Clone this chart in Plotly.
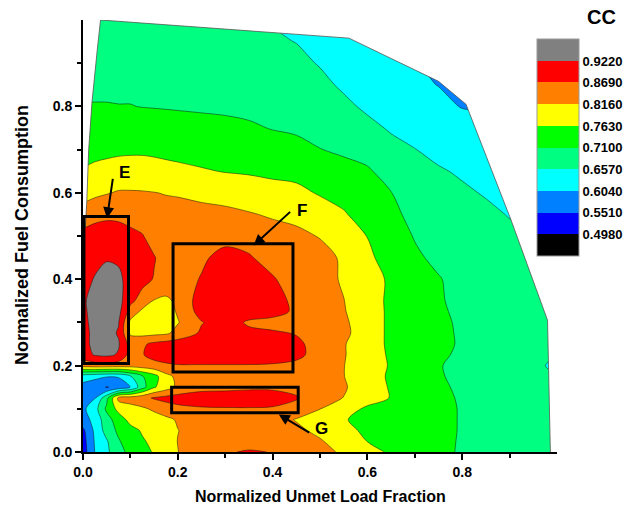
import plotly.graph_objects as go

# ---------------- data ----------------
x_vals = [0, 0.025, 0.05, 0.075, 0.1, 0.125, 0.15, 0.175, 0.2, 0.25, 0.3, 0.35, 0.4,
          0.45, 0.5, 0.55, 0.6, 0.65, 0.7, 0.75, 0.8, 0.85, 0.9, 0.95, 1.0]
y_vals = [0, 0.025, 0.05, 0.075, 0.1, 0.125, 0.15, 0.175, 0.2, 0.225, 0.25, 0.275, 0.3,
          0.325, 0.35, 0.4, 0.45, 0.5, 0.55, 0.6, 0.65, 0.7, 0.75, 0.8, 0.85, 0.9, 0.95, 1.0]

cc_y000 = [0.525, 0.605, 0.646, 0.694, 0.723, 0.744, 0.768, 0.792, 0.815, 0.848, 0.866, 0.872, 0.868, 0.848, 0.832, 0.808, 0.784, 0.755, 0.737, 0.721, 0.705, 0.697, 0.690, 0.685, 0.678]
cc_y025 = [0.530, 0.609, 0.652, 0.705, 0.737, 0.758, 0.774, 0.795, 0.817, 0.843, 0.853, 0.856, 0.853, 0.837, 0.821, 0.790, 0.762, 0.744, 0.734, 0.721, 0.706, 0.697, 0.690, 0.685, 0.678]
cc_y050 = [0.540, 0.615, 0.678, 0.721, 0.747, 0.768, 0.784, 0.800, 0.815, 0.837, 0.848, 0.848, 0.843, 0.827, 0.803, 0.779, 0.752, 0.739, 0.731, 0.721, 0.707, 0.697, 0.690, 0.685, 0.678]
cc_y075 = [0.583, 0.620, 0.689, 0.737, 0.779, 0.790, 0.795, 0.805, 0.821, 0.843, 0.848, 0.848, 0.837, 0.813, 0.790, 0.768, 0.742, 0.737, 0.731, 0.721, 0.707, 0.697, 0.690, 0.685, 0.678]
cc_y100 = [0.593, 0.636, 0.721, 0.779, 0.795, 0.808, 0.824, 0.843, 0.856, 0.864, 0.866, 0.866, 0.864, 0.848, 0.817, 0.792, 0.752, 0.742, 0.731, 0.721, 0.707, 0.697, 0.690, 0.685, 0.678]
cc_y125 = [0.593, 0.601, 0.694, 0.832, 0.843, 0.853, 0.874, 0.885, 0.890, 0.893, 0.890, 0.893, 0.890, 0.874, 0.832, 0.815, 0.790, 0.760, 0.737, 0.721, 0.705, 0.695, 0.690, 0.685, 0.676]
cc_y150 = [0.588, 0.578, 0.548, 0.567, 0.605, 0.689, 0.758, 0.792, 0.827, 0.853, 0.858, 0.861, 0.861, 0.853, 0.835, 0.821, 0.790, 0.758, 0.737, 0.718, 0.702, 0.694, 0.689, 0.684, 0.673]
cc_y175 = [0.625, 0.615, 0.607, 0.609, 0.652, 0.705, 0.742, 0.800, 0.829, 0.843, 0.845, 0.845, 0.843, 0.837, 0.829, 0.817, 0.787, 0.755, 0.737, 0.715, 0.697, 0.694, 0.689, 0.684, 0.662]
cc_y200 = [0.837, 0.843, 0.843, 0.840, 0.837, 0.843, 0.853, 0.861, 0.866, 0.866, 0.866, 0.866, 0.864, 0.856, 0.837, 0.817, 0.790, 0.758, 0.739, 0.713, 0.697, 0.694, 0.689, 0.684, 0.631]
cc_y225 = [0.896, 0.927, 0.933, 0.917, 0.848, 0.866, 0.885, 0.893, 0.896, 0.898, 0.898, 0.896, 0.893, 0.882, 0.848, 0.819, 0.790, 0.755, 0.737, 0.718, 0.702, 0.694, 0.689, 0.684, 0.662]
cc_y250 = [0.906, 0.935, 0.943, 0.927, 0.848, 0.861, 0.880, 0.890, 0.896, 0.898, 0.896, 0.896, 0.893, 0.880, 0.848, 0.819, 0.790, 0.752, 0.737, 0.721, 0.705, 0.695, 0.690, 0.684, 0.673]
cc_y275 = [0.906, 0.935, 0.943, 0.917, 0.808, 0.800, 0.803, 0.808, 0.832, 0.877, 0.885, 0.882, 0.877, 0.866, 0.848, 0.827, 0.790, 0.752, 0.737, 0.721, 0.704, 0.694, 0.689, 0.684, 0.676]
cc_y300 = [0.909, 0.938, 0.946, 0.925, 0.805, 0.790, 0.784, 0.792, 0.813, 0.866, 0.896, 0.861, 0.848, 0.848, 0.837, 0.824, 0.790, 0.752, 0.737, 0.721, 0.702, 0.694, 0.689, 0.684, 0.676]
cc_y325 = [0.911, 0.943, 0.954, 0.938, 0.848, 0.805, 0.795, 0.795, 0.821, 0.890, 0.901, 0.898, 0.893, 0.858, 0.837, 0.819, 0.790, 0.752, 0.734, 0.718, 0.699, 0.691, 0.689, 0.684, 0.676]
cc_y350 = [0.914, 0.943, 0.954, 0.941, 0.882, 0.848, 0.813, 0.808, 0.824, 0.896, 0.901, 0.898, 0.890, 0.856, 0.837, 0.817, 0.787, 0.752, 0.734, 0.715, 0.697, 0.691, 0.689, 0.684, 0.676]
cc_y400 = [0.906, 0.925, 0.943, 0.933, 0.901, 0.885, 0.866, 0.845, 0.848, 0.872, 0.890, 0.888, 0.874, 0.843, 0.832, 0.811, 0.784, 0.755, 0.731, 0.713, 0.694, 0.689, 0.686, 0.681, 0.673]
cc_y450 = [0.896, 0.909, 0.917, 0.914, 0.901, 0.885, 0.872, 0.848, 0.848, 0.861, 0.885, 0.874, 0.848, 0.837, 0.835, 0.808, 0.774, 0.739, 0.718, 0.699, 0.689, 0.684, 0.673, 0.668, 0.662]
cc_y500 = [0.885, 0.896, 0.901, 0.896, 0.882, 0.872, 0.848, 0.843, 0.845, 0.850, 0.853, 0.848, 0.837, 0.829, 0.813, 0.787, 0.762, 0.735, 0.707, 0.691, 0.684, 0.676, 0.665, 0.658, 0.652]
cc_y550 = [0.837, 0.850, 0.856, 0.855, 0.850, 0.844, 0.837, 0.832, 0.832, 0.832, 0.829, 0.820, 0.810, 0.801, 0.785, 0.767, 0.744, 0.721, 0.697, 0.681, 0.673, 0.665, 0.655, 0.646, 0.641]
cc_y600 = [0.797, 0.806, 0.813, 0.820, 0.820, 0.819, 0.817, 0.814, 0.812, 0.803, 0.795, 0.787, 0.780, 0.774, 0.759, 0.748, 0.729, 0.711, 0.686, 0.673, 0.663, 0.654, 0.644, 0.636, 0.631]
cc_y650 = [0.766, 0.773, 0.778, 0.783, 0.785, 0.785, 0.782, 0.778, 0.774, 0.767, 0.761, 0.758, 0.753, 0.750, 0.734, 0.724, 0.716, 0.690, 0.673, 0.661, 0.652, 0.641, 0.631, 0.625, 0.620]
cc_y700 = [0.747, 0.750, 0.752, 0.754, 0.755, 0.755, 0.753, 0.750, 0.748, 0.744, 0.741, 0.737, 0.730, 0.722, 0.711, 0.703, 0.691, 0.671, 0.658, 0.646, 0.639, 0.628, 0.617, 0.615, 0.609]
cc_y750 = [0.730, 0.731, 0.732, 0.732, 0.732, 0.732, 0.731, 0.729, 0.727, 0.724, 0.721, 0.716, 0.708, 0.704, 0.696, 0.686, 0.669, 0.652, 0.641, 0.631, 0.623, 0.615, 0.605, 0.605, 0.599]
cc_y800 = [0.712, 0.712, 0.712, 0.711, 0.711, 0.709, 0.708, 0.707, 0.706, 0.704, 0.702, 0.699, 0.694, 0.692, 0.682, 0.667, 0.649, 0.636, 0.625, 0.615, 0.602, 0.599, 0.591, 0.593, 0.588]
cc_y850 = [0.702, 0.702, 0.702, 0.702, 0.702, 0.702, 0.701, 0.700, 0.699, 0.697, 0.694, 0.690, 0.684, 0.680, 0.668, 0.650, 0.633, 0.620, 0.612, 0.603, 0.583, 0.583, 0.578, 0.580, 0.578]
cc_y900 = [0.694, 0.694, 0.694, 0.694, 0.694, 0.694, 0.693, 0.693, 0.691, 0.689, 0.686, 0.681, 0.673, 0.668, 0.654, 0.636, 0.617, 0.617, 0.609, 0.583, 0.567, 0.567, 0.564, 0.567, 0.564]
cc_y950 = [0.686, 0.686, 0.686, 0.686, 0.686, 0.686, 0.685, 0.685, 0.684, 0.681, 0.678, 0.672, 0.663, 0.656, 0.641, 0.623, 0.609, 0.603, 0.593, 0.567, 0.550, 0.550, 0.550, 0.554, 0.550]
cc_y1000 = [0.678, 0.678, 0.678, 0.678, 0.678, 0.678, 0.678, 0.677, 0.676, 0.673, 0.670, 0.662, 0.654, 0.644, 0.628, 0.615, 0.607, 0.599, 0.583, 0.550, 0.535, 0.535, 0.538, 0.540, 0.540]

cc_grid = [cc_y000, cc_y025, cc_y050, cc_y075, cc_y100, cc_y125, cc_y150, cc_y175, cc_y200,
           cc_y225, cc_y250, cc_y275, cc_y300, cc_y325, cc_y350, cc_y400, cc_y450, cc_y500,
           cc_y550, cc_y600, cc_y650, cc_y700, cc_y750, cc_y800, cc_y850, cc_y900, cc_y950,
           cc_y1000]

# contour levels / colour bands
cc_levels = [0.498, 0.551, 0.604, 0.657, 0.710, 0.763, 0.816, 0.869, 0.922]
cc_level_labels = ["0.4980", "0.5510", "0.6040", "0.6570", "0.7100",
                   "0.7630", "0.8160", "0.8690", "0.9220"]
band_colors = ["#000000", "#0000FF", "#0080FF", "#00FFFF", "#00FF80",
               "#00FF00", "#FFFF00", "#FF8000", "#FF0000", "#808080"]

# edge of the sampled domain (outside is blank)
edge_x = [0.0, 0.005, 0.008, 0.012, 0.019, 0.030, 0.037, 0.561, 0.750, 0.808, 0.903, 0.980, 0.986]
edge_y = [0.45, 0.52, 0.58, 0.70, 0.81, 0.93, 1.00, 0.958, 0.858, 0.805, 0.537, 0.305, 0.0]

x_ticks = [0.0, 0.2, 0.4, 0.6, 0.8]
x_ticklabels = ["0.0", "0.2", "0.4", "0.6", "0.8"]
y_ticks = [0.0, 0.2, 0.4, 0.6, 0.8]
y_ticklabels = ["0.0", "0.2", "0.4", "0.6", "0.8"]
minor_ticks = [0.1, 0.3, 0.5, 0.7, 0.9]

# ---------------- figure ----------------
FONT = "Liberation Sans, Arial, sans-serif"
step = cc_levels[1] - cc_levels[0]
n_lv = len(cc_levels)

contour_scale = []
for i, c in enumerate(band_colors):
    contour_scale.append([max(0.0, (i - 0.5) / n_lv), c])
    contour_scale.append([min(1.0, (i + 0.5) / n_lv), c])

nb = len(band_colors)
bar_scale = []
for i, c in enumerate(band_colors):
    bar_scale.append([i / nb, c])
    bar_scale.append([(i + 1) / nb, c])

fig = go.Figure()

fig.add_trace(go.Contour(
    x=x_vals, y=y_vals, z=cc_grid,
    autocontour=False,
    contours=dict(start=cc_levels[0], end=cc_levels[-1], size=step,
                  coloring="fill", showlines=True),
    colorscale=contour_scale,
    line=dict(color="rgba(20,20,20,0.85)", width=0.6, smoothing=0.9),
    showscale=False, hoverinfo="skip",
))

# blank out the region outside the sampled domain
mask_x = edge_x + [1.05, 1.05, 0.0]
mask_y = edge_y + [0.0, 1.05, 1.05]
fig.add_trace(go.Scatter(
    x=mask_x, y=mask_y, mode="lines", fill="toself", fillcolor="white",
    line=dict(width=0, color="white"), hoverinfo="skip", showlegend=False,
))
fig.add_trace(go.Scatter(
    x=edge_x[1:], y=edge_y[1:], mode="lines",
    line=dict(color="#555555", width=0.8), hoverinfo="skip", showlegend=False,
))

# colour bar (discrete bands)
fig.add_trace(go.Scatter(
    x=[-1], y=[-1], mode="markers", hoverinfo="skip", showlegend=False,
    marker=dict(
        color=[cc_levels[0]], colorscale=bar_scale,
        cmin=cc_levels[0] - step, cmax=cc_levels[-1] + step,
        showscale=True,
        colorbar=dict(
            thickness=42, thicknessmode="pixels",
            len=217, lenmode="pixels",
            x=0.9585, xanchor="left", y=0.9553, yanchor="top",
            xpad=0, ypad=0,
            outlinewidth=1, outlinecolor="#9a9a9a",
            tickmode="array", tickvals=cc_levels, ticktext=cc_level_labels,
            ticks="", ticklen=0,
            tickfont=dict(family=FONT, size=13, color="black", weight="bold"),
        ),
    ),
))

# boxes E, F, G
boxes = [(0.002, 0.205, 0.096, 0.545), (0.190, 0.185, 0.443, 0.482),
         (0.187, 0.091, 0.454, 0.150)]
for x0, y0, x1, y1 in boxes:
    fig.add_shape(type="rect", xref="x", yref="y", x0=x0, y0=y0, x1=x1, y1=y1,
                  line=dict(color="black", width=3), fillcolor="rgba(0,0,0,0)")

annotations = []
# arrows (head in data coords, tail offset in pixels)
for hx, hy, ax, ay in [(0.0507, 0.541, 6, -41), (0.360, 0.478, 38, -35),
                       (0.413, 0.087, 32, 19)]:
    annotations.append(dict(x=hx, y=hy, xref="x", yref="y", ax=ax, ay=ay,
                            text="", showarrow=True, arrowhead=2, arrowsize=1.1,
                            arrowwidth=2, arrowcolor="black", standoff=0))
for label, lx, ly in [("E", 0.0872, 0.646), ("F", 0.462, 0.558), ("G", 0.504, 0.054)]:
    annotations.append(dict(x=lx, y=ly, xref="x", yref="y", text="<b>%s</b>" % label,
                            showarrow=False,
                            font=dict(family=FONT, size=17, color="black")))
# axis titles and colour bar title
annotations.append(dict(x=0.5, y=-0.104, xref="paper", yref="paper",
                        text="<b>Normalized Unmet Load Fraction</b>", showarrow=False,
                        xanchor="center", yanchor="middle",
                        font=dict(family=FONT, size=16, color="black")))
annotations.append(dict(x=-0.129, y=0.502, xref="paper", yref="paper",
                        text="<b>Normalized Fuel Consumption</b>", showarrow=False,
                        textangle=-90, xanchor="center", yanchor="middle",
                        font=dict(family=FONT, size=18, color="black")))
annotations.append(dict(x=1.093, y=1.007, xref="paper", yref="paper",
                        text="<b>CC</b>", showarrow=False,
                        xanchor="center", yanchor="middle",
                        font=dict(family=FONT, size=20, color="black")))

axis_common = dict(
    range=[0, 1.0], tickmode="array", ticks="outside", ticklen=6, tickwidth=1.5,
    tickcolor="black", showline=True, linecolor="black", linewidth=2,
    showgrid=False, zeroline=False, mirror=False,
    tickfont=dict(family=FONT, size=14, color="black", weight="bold"),
    minor=dict(tickmode="array", tickvals=minor_ticks, ticks="outside",
               ticklen=4, tickwidth=1.5, tickcolor="black", showgrid=False),
)

fig.update_layout(
    width=644, height=513,
    margin=dict(l=83, r=87, t=20, b=61),
    paper_bgcolor="white", plot_bgcolor="white",
    showlegend=False,
    xaxis=dict(axis_common, tickvals=x_ticks, ticktext=x_ticklabels),
    yaxis=dict(axis_common, tickvals=y_ticks, ticktext=y_ticklabels),
    annotations=annotations,
    font=dict(family=FONT, color="black"),
)

fig.write_html("out.html")
